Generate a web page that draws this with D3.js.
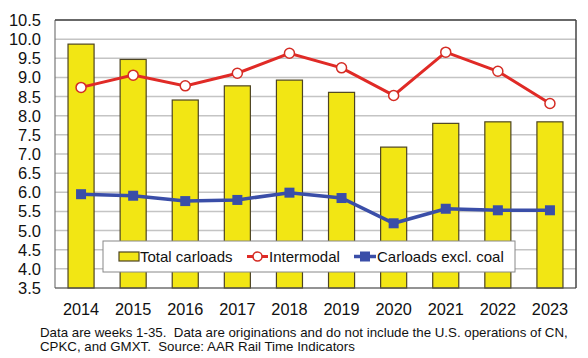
<!DOCTYPE html>
<html><head><meta charset="utf-8">
<script src="https://cdn.jsdelivr.net/npm/d3@7"></script>
<style>body{margin:0;background:#fff}svg{display:block;font-family:"Liberation Sans",Arial,sans-serif}</style>
</head><body><svg id="c" width="588" height="358"></svg>
<script>
const years = ["2014","2015","2016","2017","2018","2019","2020","2021","2022","2023"];
const totalCarloads = [9.87,9.47,8.41,8.78,8.93,8.61,7.18,7.80,7.84,7.84];
const intermodal = [8.74,9.06,8.78,9.11,9.63,9.25,8.53,9.66,9.16,8.32];
const carloadsExclCoal = [5.95,5.91,5.77,5.80,5.99,5.85,5.19,5.57,5.53,5.53];
const yTicks = [3.5,4.0,4.5,5.0,5.5,6.0,6.5,7.0,7.5,8.0,8.5,9.0,9.5,10.0,10.5];
const seriesNames = ["Total carloads","Intermodal","Carloads excl. coal"];
const footer = ["Data are weeks 1-35.  Data are originations and do not include the U.S. operations of CN,",
                "CPKC, and GMXT.  Source: AAR Rail Time Indicators"];

const svg = d3.select("#c");
const L=55,R=576,T=20,B=288;
const x = d3.scaleBand().domain(years).range([L,R]).paddingInner(0.5).paddingOuter(0.25);
const y = d3.scaleLinear().domain([3.5,10.5]).range([B,T]);

// gridlines
svg.append("g").selectAll("line").data(yTicks).join("line")
  .attr("x1",L).attr("x2",R).attr("y1",d=>y(d)).attr("y2",d=>y(d))
  .attr("stroke","#c4c4c4").attr("stroke-width",1.5);

// bars
svg.append("g").selectAll("rect").data(totalCarloads).join("rect")
  .attr("x",(d,i)=>x(years[i])).attr("width",x.bandwidth())
  .attr("y",d=>y(d)).attr("height",d=>B-y(d))
  .attr("fill","#f2e614").attr("stroke","#4d4422").attr("stroke-width",1.2);

// plot border
svg.append("line").attr("x1",L).attr("x2",L).attr("y1",T).attr("y2",B).attr("stroke","#777").attr("stroke-width",1.2);
svg.append("line").attr("x1",L).attr("x2",R).attr("y1",B).attr("y2",B).attr("stroke","#555").attr("stroke-width",1.2);
svg.append("line").attr("x1",L).attr("x2",R).attr("y1",T).attr("y2",T).attr("stroke","#444").attr("stroke-width",1.5);
svg.append("line").attr("x1",R).attr("x2",R).attr("y1",T).attr("y2",B).attr("stroke","#444").attr("stroke-width",1.5);

const cx = i => x(years[i]) + x.bandwidth()/2;
const lineGen = d3.line().x((d,i)=>cx(i)).y(d=>y(d));

// intermodal
svg.append("path").datum(intermodal).attr("d",lineGen).attr("fill","none")
  .attr("stroke","#e02a26").attr("stroke-width",3);
svg.append("g").selectAll("circle").data(intermodal).join("circle")
  .attr("cx",(d,i)=>cx(i)).attr("cy",d=>y(d)).attr("r",5)
  .attr("fill","#fff").attr("stroke","#d42c24").attr("stroke-width",1.5);

// carloads excl coal
svg.append("path").datum(carloadsExclCoal).attr("d",lineGen).attr("fill","none")
  .attr("stroke","#3a4ea8").attr("stroke-width",3.5);
svg.append("g").selectAll("rect").data(carloadsExclCoal).join("rect")
  .attr("x",(d,i)=>cx(i)-5).attr("y",d=>y(d)-5).attr("width",10).attr("height",10)
  .attr("fill","#3a4ea8");

// y axis labels
svg.append("g").selectAll("text").data(yTicks).join("text")
  .attr("x",41).attr("y",d=>y(d)+6).attr("text-anchor","end")
  .attr("font-size",16.5).attr("fill","#111").text(d=>d.toFixed(1));

// x axis labels
svg.append("g").selectAll("text").data(years).join("text")
  .attr("x",d=>x(d)+x.bandwidth()/2).attr("y",315).attr("text-anchor","middle")
  .attr("font-size",16.3).attr("fill","#111").text(d=>d);

// legend
const lg = svg.append("g");
lg.append("rect").attr("x",103).attr("y",241).attr("width",412).attr("height",31)
  .attr("fill","#fff").attr("stroke","#888").attr("stroke-width",1);
lg.append("rect").attr("x",119).attr("y",252).attr("width",20).attr("height",9)
  .attr("fill","#f2e614").attr("stroke","#4d4422").attr("stroke-width",1.2);
lg.append("text").attr("x",140).attr("y",262).attr("font-size",15).attr("fill","#111").text(seriesNames[0]);
lg.append("line").attr("x1",247).attr("x2",268).attr("y1",256.5).attr("y2",256.5).attr("stroke","#e02a26").attr("stroke-width",3);
lg.append("circle").attr("cx",257.5).attr("cy",256.5).attr("r",4.5).attr("fill","#fff").attr("stroke","#d42c24").attr("stroke-width",1.5);
lg.append("text").attr("x",269).attr("y",262).attr("font-size",15).attr("fill","#111").text(seriesNames[1]);
lg.append("line").attr("x1",354).attr("x2",376).attr("y1",256.5).attr("y2",256.5).attr("stroke","#3a4ea8").attr("stroke-width",3.5);
lg.append("rect").attr("x",360).attr("y",251.5).attr("width",10).attr("height",10).attr("fill","#3a4ea8");
lg.append("text").attr("x",377).attr("y",262).attr("font-size",15).attr("fill","#111").text(seriesNames[2]);

// footer
svg.append("g").selectAll("text").data(footer).join("text")
  .attr("x",40).attr("y",(d,i)=>337+i*14).attr("font-size",13.3).attr("fill","#111")
  .attr("xml:space","preserve").style("white-space","pre").text(d=>d);
</script></body></html>
